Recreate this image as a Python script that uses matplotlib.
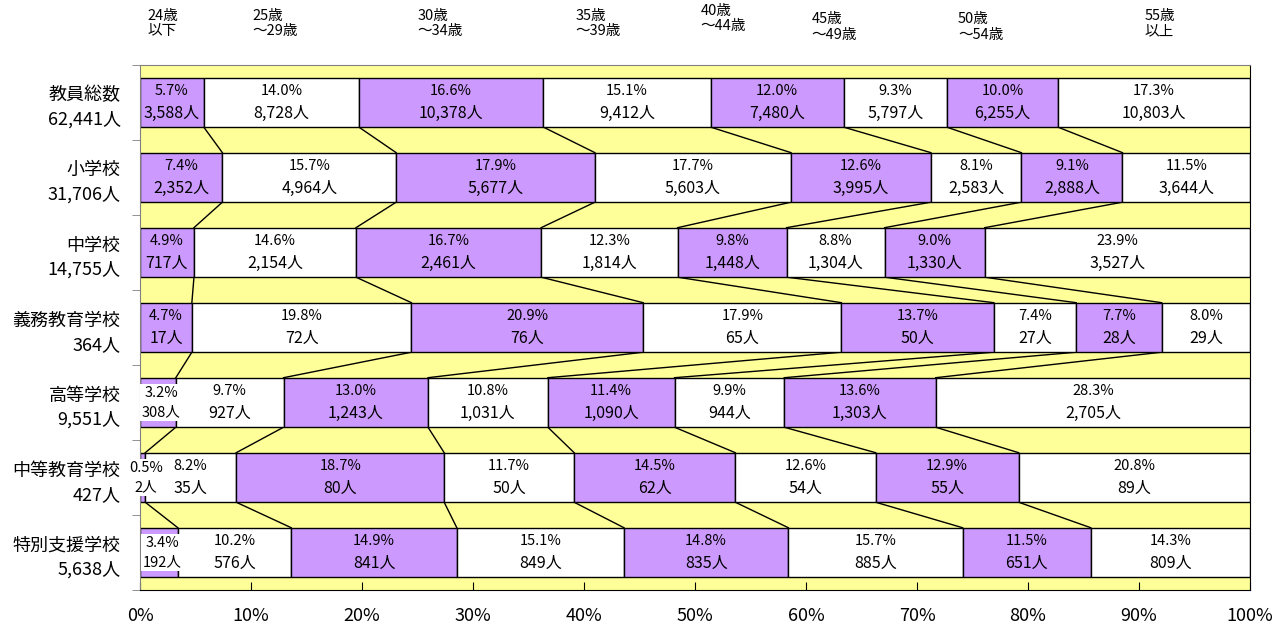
import numpy as np
import matplotlib
matplotlib.use("Agg")
import matplotlib.pyplot as plt
from matplotlib.ticker import FixedLocator

plt.rcParams['font.family'] = ['Noto Sans CJK JP', 'DejaVu Sans']

# -----------------------------
# Data
# -----------------------------

schools = ["教員総数", "小学校", "中学校", "義務教育学校", "高等学校", "中等教育学校", "特別支援学校"]
totals = ["62,441人", "31,706人", "14,755人", "364人", "9,551人", "427人", "5,638人"]

age_groups = ["24歳\n以下", "25歳\n～29歳", "30歳\n～34歳", "35歳\n～39歳",
              "40歳\n～44歳", "45歳\n～49歳", "50歳\n～54歳", "55歳\n以上"]

counts_all = [3588, 8728, 10378, 9412, 7480, 5797, 6255, 10803]
counts_elem = [2352, 4964, 5677, 5603, 3995, 2583, 2888, 3644]
counts_jhs = [717, 2154, 2461, 1814, 1448, 1304, 1330, 3527]
counts_compulsory = [17, 72, 76, 65, 50, 27, 28, 29]
counts_hs = [308, 927, 1243, 1031, 1090, 944, 1303, 2705]
counts_secondary = [2, 35, 80, 50, 62, 54, 55, 89]
counts_special = [192, 576, 841, 849, 835, 885, 651, 809]

pct_all = [5.7, 14.0, 16.6, 15.1, 12.0, 9.3, 10.0, 17.3]
pct_elem = [7.4, 15.7, 17.9, 17.7, 12.6, 8.1, 9.1, 11.5]
pct_jhs = [4.9, 14.6, 16.7, 12.3, 9.8, 8.8, 9.0, 23.9]
pct_compulsory = [4.7, 19.8, 20.9, 17.9, 13.7, 7.4, 7.7, 8.0]
pct_hs = [3.2, 9.7, 13.0, 10.8, 11.4, 9.9, 13.6, 28.3]
pct_secondary = [0.5, 8.2, 18.7, 11.7, 14.5, 12.6, 12.9, 20.8]
pct_special = [3.4, 10.2, 14.9, 15.1, 14.8, 15.7, 11.5, 14.3]

counts = [counts_all, counts_elem, counts_jhs, counts_compulsory,
          counts_hs, counts_secondary, counts_special]
pcts = [pct_all, pct_elem, pct_jhs, pct_compulsory,
        pct_hs, pct_secondary, pct_special]

# header label x positions (in % units, left aligned) and heights (figure coords)
header_x = [0.7, 10.1, 25.0, 39.2, 50.5, 60.5, 73.7, 90.5]
header_y = [0.985, 0.985, 0.985, 0.985, 0.993, 0.980, 0.980, 0.985]

PURPLE = "#CC99FF"
YELLOW = "#FFFF99"

# -----------------------------
# Plot
# -----------------------------

fig = plt.figure(figsize=(12.87, 6.24), dpi=100)
ax = fig.add_axes([0.1088, 0.0545, 0.8625, 0.8415])
ax.set_facecolor(YELLOW)

bar_h = 0.66
n = len(schools)
ys = np.arange(n)

cum_rows = []
for i, row in enumerate(counts):
    total = sum(row)
    widths = np.array(row) / total * 100
    lefts = np.concatenate([[0], np.cumsum(widths)[:-1]])
    cum_rows.append(np.cumsum(widths))
    for j, (l, w) in enumerate(zip(lefts, widths)):
        color = PURPLE if j % 2 == 0 else "white"
        ax.barh(ys[i], w, left=l, height=bar_h, color=color,
                edgecolor="black", linewidth=1.0, zorder=2)
        if w < 4:
            # narrow segment: label sits on a white box that overflows it
            ax.text(l + w / 2 + 0.3, ys[i], f"{pcts[i][j]:.1f}%\n{row[j]:,}人",
                    ha="center", va="center", fontsize=10.5, linespacing=1.45,
                    zorder=5, clip_on=False,
                    bbox=dict(facecolor="white", edgecolor="none", pad=1.5))
        else:
            ax.text(l + w / 2, ys[i] - 0.15, f"{pcts[i][j]:.1f}%",
                    ha="center", va="center", fontsize=10.5, zorder=4)
            ax.text(l + w / 2, ys[i] + 0.15, f"{row[j]:,}人",
                    ha="center", va="center", fontsize=11.5, zorder=4)

# series lines between consecutive bars
for i in range(n - 1):
    for k in range(len(age_groups) - 1):
        ax.plot([cum_rows[i][k], cum_rows[i + 1][k]],
                [ys[i] + bar_h / 2, ys[i + 1] - bar_h / 2],
                color="black", linewidth=1.0, zorder=1)

ax.set_xlim(0, 100)
ax.set_ylim(n - 0.5, -0.5)

ax.set_xticks(np.arange(0, 101, 10))
ax.set_xticklabels([f"{v}%" for v in range(0, 101, 10)], fontsize=13)
ax.tick_params(axis="x", direction="in", length=6, pad=12)

ax.set_yticks(ys)
ax.set_yticklabels([f"{s}\n{t}" for s, t in zip(schools, totals)],
                   fontsize=13, linespacing=1.45, ha="right")
ax.yaxis.set_minor_locator(FixedLocator(np.arange(-0.5, n, 1.0)))
ax.tick_params(axis="y", which="major", length=0, pad=14)
ax.tick_params(axis="y", which="minor", length=6, color="gray")

for side in ["left", "top"]:
    ax.spines[side].set_color("gray")
for side in ["right", "bottom"]:
    ax.spines[side].set_color("black")

# age group headers above the plot
for label, hx, hy in zip(age_groups, header_x, header_y):
    x_fig = fig.transFigure.inverted().transform(ax.transData.transform((hx, 0)))[0]
    fig.text(x_fig, hy, label, ha="left", va="top", fontsize=10.5, linespacing=1.1)

fig.savefig("out.png", dpi=100)
